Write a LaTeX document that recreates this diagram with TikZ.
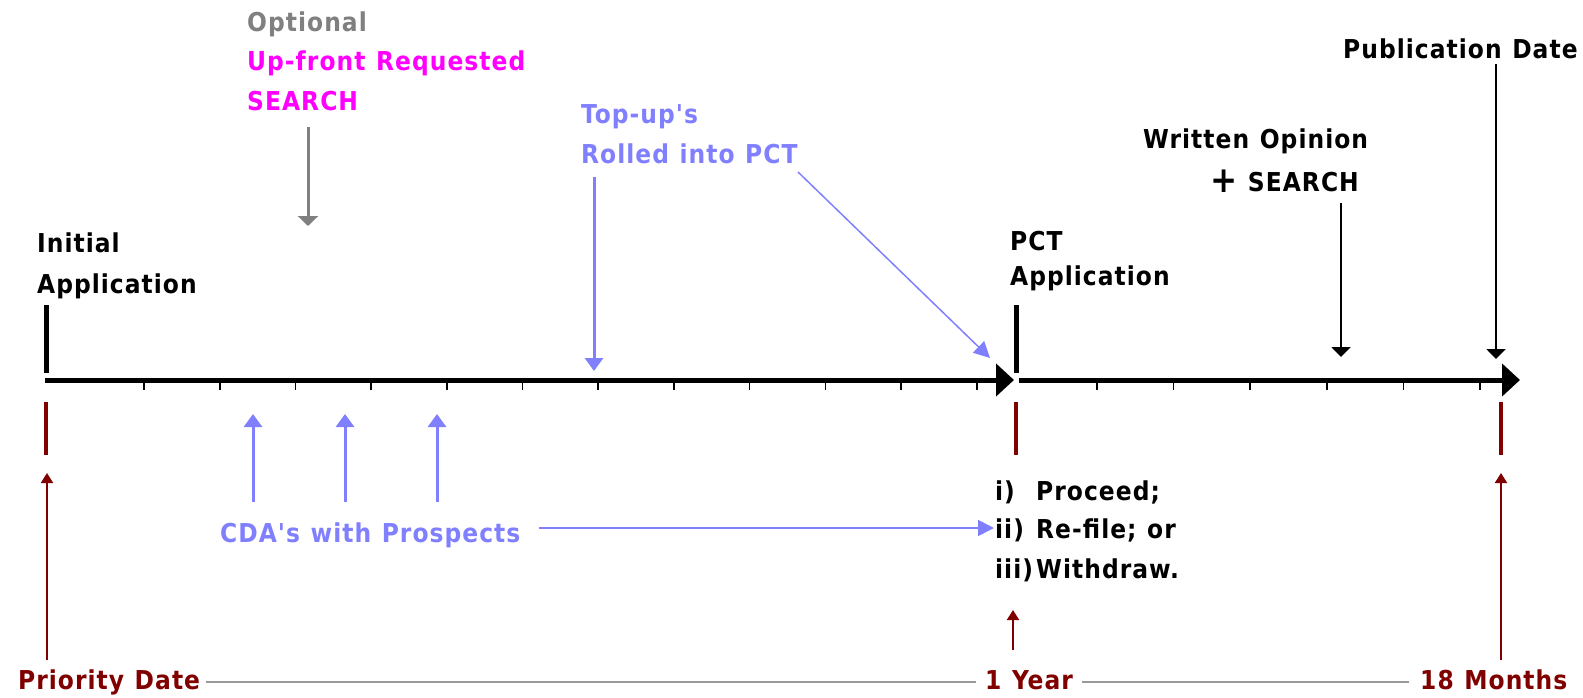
\documentclass[tikz,border=0pt]{standalone}
\usepackage{fontspec}
\newfontfamily\lblfont{DejaVu Sans Condensed Bold}[LetterSpace=4, WordSpace=1.15]
\usetikzlibrary{arrows.meta}

\definecolor{tlblue}{RGB}{128,128,255}
\definecolor{tlred}{RGB}{128,0,0}
\definecolor{tlpink}{RGB}{255,0,255}
\definecolor{tlgrey}{RGB}{128,128,128}

\newcommand{\numbox}[1]{\makebox[41pt][l]{#1}}

\tikzset{
  lbl/.style={anchor=base west, inner sep=0pt, font=\lblfont\fontsize{26}{30}\selectfont},
  axis/.style={draw=black, line width=5pt, -{Triangle[length=18pt,width=32pt]}},
  barblack/.style={draw=black, line width=5pt},
  barred/.style={draw=tlred, line width=4pt},
  tick/.style={draw=black, line width=1.6pt},
  redarr/.style={draw=tlred, line width=1.8pt, -{Triangle[length=10pt,width=12pt]}},
  bluearr/.style={draw=tlblue, line width=3pt, -{Triangle[length=13pt,width=18pt]}},
  thinblue/.style={draw=tlblue, line width=1.5pt, -{Triangle[length=16pt,width=16pt]}},
  greyarr/.style={draw=tlgrey, line width=3pt, -{Triangle[length=10pt,width=20pt]}},
  blkarr/.style={draw=black, line width=2pt, -{Triangle[length=10pt,width=19pt]}},
  dateline/.style={draw=black!40, line width=1.6pt},
}

\begin{document}
\begin{tikzpicture}[x=1pt, y=-1pt]
  \useasboundingbox (0,0) rectangle (1583,698);

  % time axis, first year and the months after
  \coordinate (t0) at (45,380);
  \coordinate (t1) at (1014,380);
  \coordinate (u0) at (1019,380);
  \coordinate (u1) at (1520,380);
  \draw[axis] (t0) -- (t1);
  \draw[axis] (u0) -- (u1);
  \foreach \x in {0,...,11}
    \draw[tick] ({144+75.7*\x},382) -- ++(0,8);
  \foreach \x in {0,...,5}
    \draw[tick] ({1097+76.6*\x},382) -- ++(0,8);

  % filing marks above, date marks below
  \draw[barblack] (46,305) -- (46,373);
  \draw[barblack] (1016,305) -- (1016,373);
  \draw[barred] (46,402) -- (46,455);
  \draw[barred] (1016,402) -- (1016,455);
  \draw[barred] (1501,402) -- (1501,455);

  % labels above the axis
  \node[lbl] (init) at (37,252) {Initial};
  \node[lbl] (initapp) at (37,293) {Application};
  \node[lbl] (pct) at (1010,250) {PCT};
  \node[lbl] (pctapp) at (1010,285) {Application};

  \node[lbl, text=tlgrey] (opt) at (247,32) {Optional};
  \node[lbl, text=tlpink] (upfront) at (247,71) {Up-front Requested};
  \node[lbl, text=tlpink] (srch) at (247,111) {SEARCH};
  \coordinate (srchtop) at (308,127);
  \coordinate (srchend) at (308,226);
  \draw[greyarr] (srchtop) -- (srchend);

  \node[lbl, text=tlblue] (topup) at (581,124) {Top-up's};
  \node[lbl, text=tlblue] (rolled) at (581,164) {Rolled into PCT};
  \coordinate (topupend) at (594,371);
  \coordinate (rolledstart) at (798,172);
  \coordinate (rolledend) at (990,358);
  \draw[bluearr] (594,177) -- (topupend);
  \draw[thinblue] (rolledstart) -- (rolledend);

  \node[lbl] (wo) at (1143,149) {Written Opinion};
  \node[lbl] (wosrch) at (1210,192) {\fontsize{36}{30}\selectfont\raisebox{-1pt}{+}\fontsize{26}{30}\selectfont\ SEARCH};
  \coordinate (woend) at (1341,357);
  \draw[blkarr] (1341,203) -- (woend);

  \node[lbl] (pub) at (1343,59) {Publication Date};
  \coordinate (pubend) at (1496,359);
  \draw[blkarr] (1496,64) -- (pubend);

  % CDA's signed during the first year
  \foreach \x/\n in {253/c1,345/c2,437/c3} {
    \coordinate (\n) at (\x,414);
    \draw[bluearr] (\x,502) -- (\n);
  }
  \node[lbl, text=tlblue] (cda) at (220,542) {CDA's with Prospects};

  \node[lbl] (opt1) at (995,500) {\numbox{i)}Proceed;};
  \node[lbl] (opt2) at (995,538) {\numbox{ii)}Re-file;\ or};
  \node[lbl] (opt3) at (995,578) {\numbox{iii)}Withdraw.};
  \draw[thinblue] ([xshift=18pt,yshift=14pt]cda.base east) -- ([xshift=-1pt,yshift=10pt]opt2.base west);

  % dates along the bottom
  \node[lbl, text=tlred] (prio) at (18,689) {Priority Date};
  \node[lbl, text=tlred] (yr) at (985,689) {1 Year};
  \node[lbl, text=tlred] (mo) at (1420,689) {18 Months};
  \draw[dateline] ([xshift=6pt,yshift=7pt]prio.base east) -- ([xshift=-9pt,yshift=7pt]yr.base west);
  \draw[dateline] ([xshift=9pt,yshift=7pt]yr.base east) -- ([xshift=-11pt,yshift=7pt]mo.base west);

  \coordinate (prioend) at (47,473);
  \coordinate (yrend) at (1013,610);
  \coordinate (moend) at (1501,473);
  \draw[redarr] (47,660) -- (prioend);
  \draw[redarr] (1013,650) -- (yrend);
  \draw[redarr] (1501,660) -- (moend);
\end{tikzpicture}
\end{document}
